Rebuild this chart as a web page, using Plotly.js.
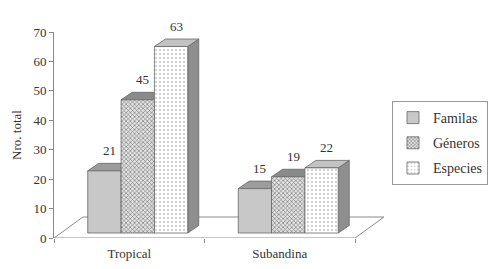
<!DOCTYPE html>
<html><head><meta charset="utf-8">
<script src="https://cdn.plot.ly/plotly-3.0.1.min.js"></script>
<style>html,body{margin:0;padding:0;background:#fff}#chart{width:490px;height:269px}</style>
</head><body><div id="chart"></div>
<script>
var categories = ['Tropical', 'Subandina'];
var seriesNames = ['Familas', 'Géneros', 'Especies'];
var familias = [21, 15];
var generos = [45, 19];
var especies = [63, 22];
var yTicks = [0, 10, 20, 30, 40, 50, 60, 70];

var values = [familias, generos, especies];
var FONT = '"Liberation Serif", "Times New Roman", serif';
var PX_X = 150.5;          // px per category unit
var PX_Y = 2.96;           // px per value unit (bars)
var barW = 0.2215;         // bar width in category units
var shift = 8.5 / PX_X;    // depth offset of bars vs floor front
var dx = 11 / PX_X, dy = 7.5 / PX_Y;
var floorDx = 29 / PX_X, floorDy = 21 / 2.943;

var fronts = [
  {color: '#c8c8c8', pattern: {shape: ''}},
  {color: '#d8d8d8', pattern: {shape: 'x', fgcolor: '#707070', bgcolor: '#e2e2e2', size: 3, solidity: 0.35}},
  {color: '#ffffff', pattern: {shape: '.', fgcolor: '#c4c4c4', bgcolor: '#ffffff', size: 4, solidity: 0.2}}
];
var tops = ['#9c9c9c', '#8a8a8a', '#c2c2c2'];
var sides = ['#8a8a8a', '#7a7a7a', '#8e8e8e'];

function offs(i) { return -1.5 * barW + i * barW + shift; }

var traces = seriesNames.map(function (name, i) {
  return {
    type: 'bar', name: name, x: categories, y: values[i],
    offset: offs(i), width: barW,
    marker: {color: fronts[i].color, pattern: fronts[i].pattern, line: {color: '#666', width: 0.8}},
    legendgroup: 'g' + i, hoverinfo: 'none', xaxis: 'x', yaxis: 'y'
  };
});

var shapes = [];
shapes.push({type: 'path', xref: 'x', yref: 'y2', layer: 'below',
  path: 'M -0.5,0 L 1.5,0 L ' + (1.5 + floorDx) + ',' + floorDy + ' L ' + (-0.5 + floorDx) + ',' + floorDy + ' Z',
  line: {color: '#8a8a8a', width: 1}, fillcolor: 'rgba(0,0,0,0)'});
var annotations = [];
categories.forEach(function (c, g) {
  seriesNames.forEach(function (n, i) {
    var v = values[i][g];
    var L = g + offs(i), R = L + barW;
    shapes.push({type: 'path', xref: 'x', yref: 'y', layer: 'below',
      path: 'M ' + R + ',0 L ' + (R + dx) + ',' + dy + ' L ' + (R + dx) + ',' + (v + dy) + ' L ' + R + ',' + v + ' Z',
      fillcolor: sides[i], line: {color: '#666', width: 0.8}});
    shapes.push({type: 'path', xref: 'x', yref: 'y', layer: 'below',
      path: 'M ' + L + ',' + v + ' L ' + (L + dx) + ',' + (v + dy) + ' L ' + (R + dx) + ',' + (v + dy) + ' L ' + R + ',' + v + ' Z',
      fillcolor: tops[i], line: {color: '#666', width: 0.8}});
    annotations.push({xref: 'x', yref: 'y', x: L + barW / 2, y: v, text: String(v),
      showarrow: false, yanchor: 'bottom', yshift: 11, xshift: 5,
      font: {family: FONT, size: 13, color: '#333'}});
  });
});

var layout = {
  width: 490, height: 269,
  margin: {l: 54, r: 100, t: 32, b: 31, pad: 0, autoexpand: false},
  paper_bgcolor: '#fff', plot_bgcolor: 'rgba(0,0,0,0)',
  showlegend: true,
  legend: {xref: 'container', yref: 'container', x: 392 / 490, xanchor: 'left', y: 1 - 101 / 269, yanchor: 'top',
    bordercolor: '#999', borderwidth: 1, bgcolor: '#fff', tracegroupgap: 4,
    itemwidth: 30,
    font: {family: FONT, size: 14, color: '#333'}},
  xaxis: {type: 'category', range: [-0.5, -0.5 + 336 / PX_X], showline: false, showgrid: false,
    zeroline: false, ticks: 'outside', tickson: 'boundaries', ticklen: 4, tickcolor: '#888',
    ticklabelstandoff: 6,
    tickfont: {family: FONT, size: 13, color: '#333'}, fixedrange: true},
  yaxis: {range: [-5 / PX_Y, -5 / PX_Y + 206 / PX_Y], visible: false, fixedrange: true},
  yaxis2: {overlaying: 'y', side: 'left', anchor: 'x', range: [0, 70], tickvals: yTicks,
    showline: true, linecolor: '#888', linewidth: 1, ticks: 'outside', ticklen: 4, tickcolor: '#888',
    showgrid: false, zeroline: false,
    tickfont: {family: FONT, size: 13, color: '#333'},
    title: {text: 'Nro. total', font: {family: FONT, size: 13, color: '#333'}, standoff: 8}},
  shapes: shapes, annotations: annotations, bargap: 0
};
traces.push({type: 'scatter', x: [categories[0]], y: [0], xaxis: 'x', yaxis: 'y2', mode: 'markers',
  marker: {opacity: 0}, showlegend: false, hoverinfo: 'none'});
Plotly.newPlot('chart', traces, layout, {staticPlot: true});
</script></body></html>
